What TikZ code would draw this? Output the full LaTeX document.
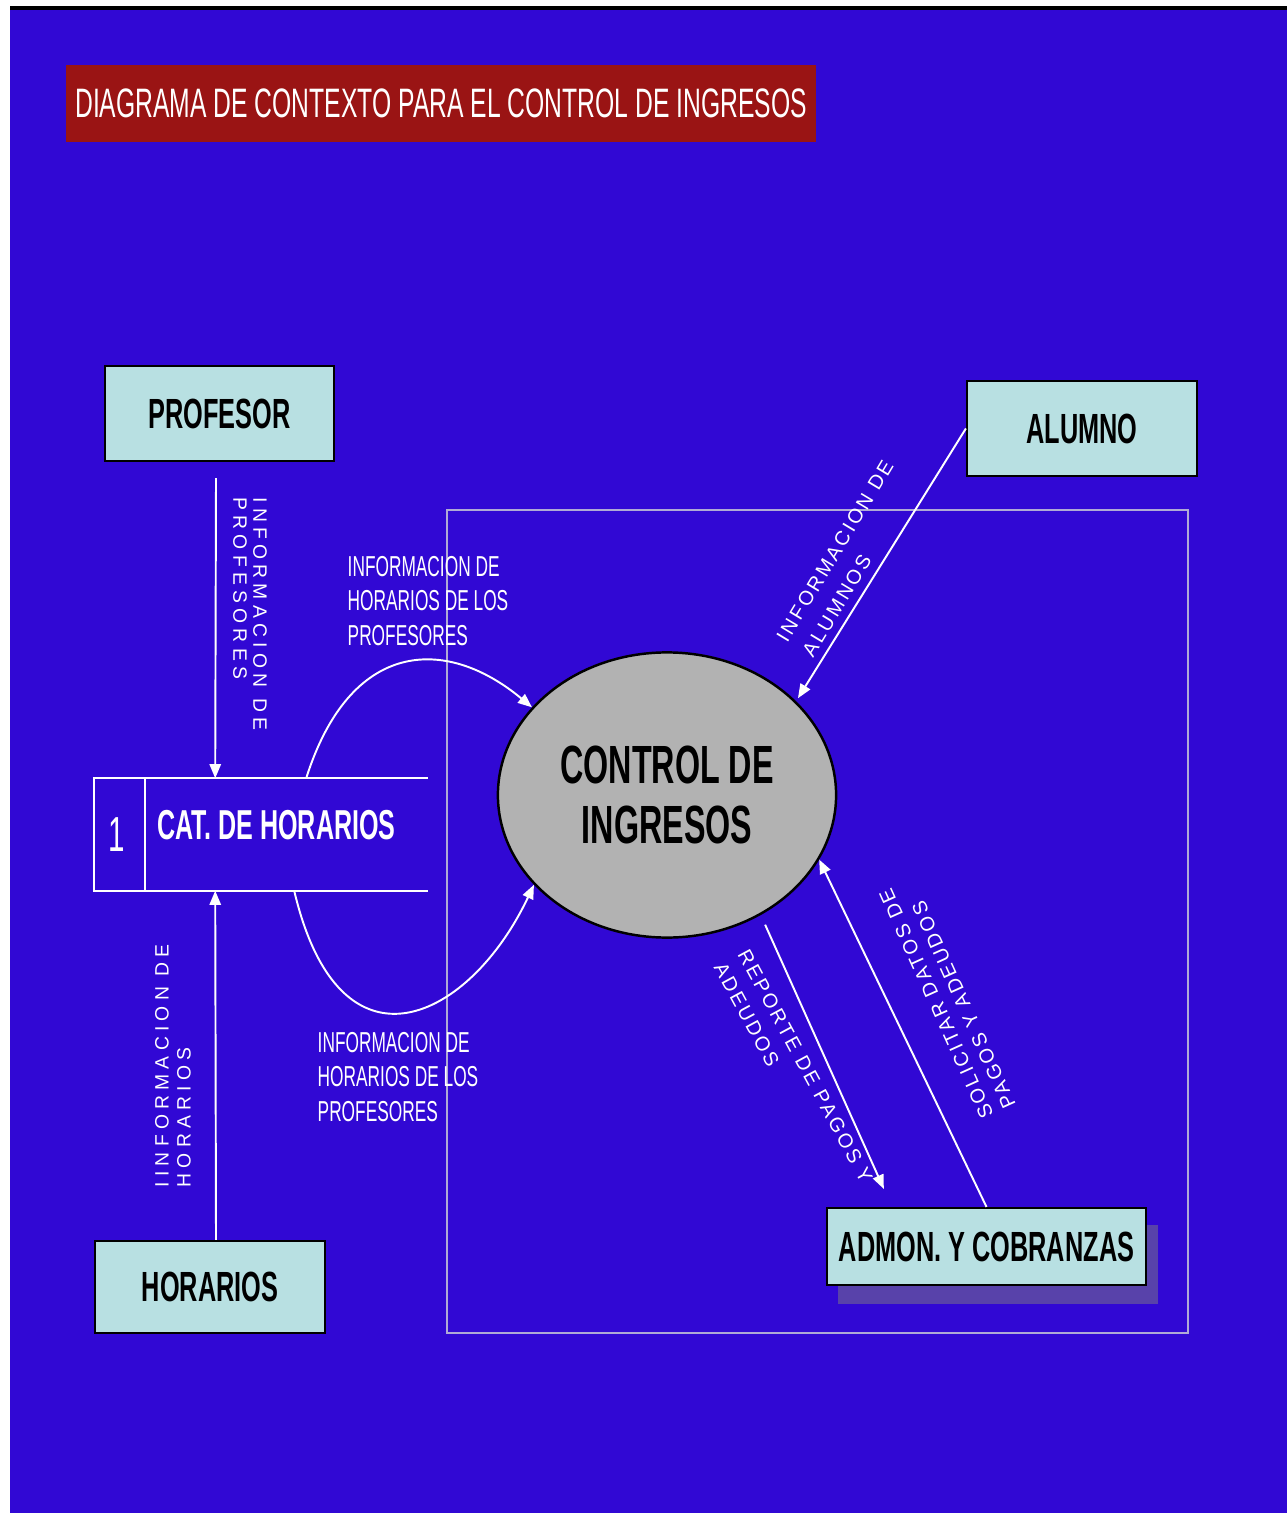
\documentclass[tikz,border=0pt]{standalone}
\usepackage{fontspec}
\setmainfont{Liberation Sans}
\newfontfamily\condfont[FakeStretch=0.6]{Liberation Sans}
\newfontfamily\widefont[LetterSpace=27]{Liberation Sans}
\newfontfamily\slantfont[LetterSpace=13]{Liberation Sans}
\usepackage{tikz}
\usetikzlibrary{arrows.meta}
\usetikzlibrary{shapes.geometric}
\usetikzlibrary{calc}
\definecolor{bgblue}{RGB}{49,8,212}
\definecolor{boxcyan}{RGB}{184,224,226}
\definecolor{titlered}{RGB}{154,20,20}
\definecolor{shadowblue}{RGB}{88,66,170}
\definecolor{framegray}{RGB}{176,170,214}
\definecolor{ellipsegray}{RGB}{178,178,178}

\begin{document}
\begin{tikzpicture}[x=0.01cm, y=-0.01cm,
 flows/.style={->, white, line width=0.55pt, >={Triangle[length=4pt,width=3.2pt]}},
 entities/.style={draw=black, line width=0.6pt, fill=boxcyan, inner sep=0pt,
   minimum width=2.3cm, minimum height=0.95cm,
   font=\condfont\bfseries\fontsize{12}{14}\selectfont},
 labels/.style={white, inner sep=0pt, align=left, font=\condfont\fontsize{8.2}{9.7}\selectfont},
 vlabels/.style={white, inner sep=0pt, align=left, font=\widefont\fontsize{5.5}{5.7}\selectfont},
 slabels/.style={white, inner sep=0pt, align=left, font=\slantfont\fontsize{5.7}{8}\selectfont}]

 \fill[white] (0,0) rectangle (1287,1513);
 \fill[bgblue] (10,9) rectangle (1287,1513);
 \fill[black] (10,6) rectangle (1287,10);
 \useasboundingbox (0,0) rectangle (1287,1513);


 \node[fill=titlered, text=white, inner sep=0pt, minimum width=7.5cm, minimum height=0.77cm,
   font=\condfont\fontsize{11.7}{14}\selectfont] (title) at (441,103.5)
     {DIAGRAMA DE CONTEXTO PARA EL CONTROL DE INGRESOS};

 \draw[framegray, line width=0.6pt] (447,510) rectangle (1188,1333);

 \node[entities, minimum width=2.29cm] (entity_profesor) at (219.5,413.5)
     {PROFESOR};

 \node[entities] (entity_alumno) at (1082,428.5)
     {ALUMNO};

 \node[entities, minimum height=0.92cm] (entity_horarios) at (210,1287)
     {HORARIOS};

 \fill[shadowblue] (838,1225) rectangle (1158,1304);
 \node[entities, minimum width=3.19cm, minimum height=0.77cm] (entity_admon) at (986.5,1246.5)
     {ADMON. Y COBRANZAS};

 \node[minimum width=3.32cm, minimum height=1.11cm, inner sep=0pt] (store_1) at (261,834.5) {};
 \draw[white, line width=0.6pt] (store_1.north east) -- (store_1.north west)
   -- (store_1.south west) -- (store_1.south east);
 \draw[white, line width=0.6pt] ($(store_1.north west)+(51,0)$) -- ($(store_1.south west)+(51,0)$);

 \node[white, font=\condfont\fontsize{14}{16}\selectfont] (store_num) at (117,835)
     {1};

 \node[white, font=\condfont\bfseries\fontsize{11.9}{13}\selectfont] (store_name) at (276.5,825)
     {CAT. DE HORARIOS};

 \node[ellipse, draw=black, line width=0.7pt, fill=ellipsegray, inner sep=0pt,
   minimum width=3.38cm, minimum height=2.85cm, align=center,
   font=\condfont\bfseries\fontsize{15.3}{17}\selectfont] (control) at (667,795)
     {CONTROL DE\\INGRESOS};

 \coordinate (store_in_top) at ($(store_1.north west)+(121,0)$);
 \coordinate (store_in_bottom) at ($(store_1.south west)+(121,0)$);
 \coordinate (store_out_top) at ($(store_1.north west)+(212,0)$);
 \coordinate (store_out_bottom) at ($(store_1.south west)+(200,0)$);


 \draw[flows] ($(entity_profesor.south)+(-3.5,16)$) -- (store_in_top);
 \draw[flows] ($(entity_horarios.north)+(6,0)$) -- (store_in_bottom);
 \draw[flows] (store_out_top) .. controls (350,640) and (445,635) .. (control.147);
 \draw[flows] (store_out_bottom) .. controls (340,1085) and (470,1020) .. (control.214);
 \draw[flows, shorten >=1pt] (entity_alumno.west) -- (control.36);
 \draw[flows, shorten <=3pt] (control.-52) -- ($(entity_admon.north west)+(58,-18)$);
 \draw[flows] (entity_admon.north) -- (control.-23);


 \node[labels, anchor=west] (label_upper) at (347,601)
     {INFORMACION DE\\HORARIOS DE LOS\\PROFESORES};

 \node[labels, anchor=west] (label_lower) at (317,1077)
     {INFORMACION DE\\HORARIOS DE LOS\\PROFESORES};

 \node[vlabels, rotate=-90, anchor=west] (label_profesor) at (250,497)
     {INFORMACION DE\\PROFESORES};

 \node[vlabels, rotate=90, anchor=west, font=\widefont\fontsize{5.5}{6.3}\selectfont] (label_horarios) at (173,1188)
     {IINFORMACION DE\\HORARIOS};

 \node[slabels, rotate=59, anchor=west, font=\slantfont\fontsize{5.7}{8.5}\selectfont] (label_alumno) at (794,648)
     {INFORMACION DE\\ALUMNOS};

 \node[slabels, rotate=-61.6, anchor=west, font=\slantfont\fontsize{5.7}{7.7}\selectfont] (label_reporte) at (731,957)
     {REPORTE DE PAGOS Y\\ADEUDOS};

 \node[slabels, rotate=114.3, anchor=west, font=\slantfont\fontsize{5.7}{7}\selectfont] (label_solicitar) at (999,1113)
     {SOLICITAR DATOS DE\\PAGOS Y ADEUDOS};


\end{tikzpicture}
\end{document}
